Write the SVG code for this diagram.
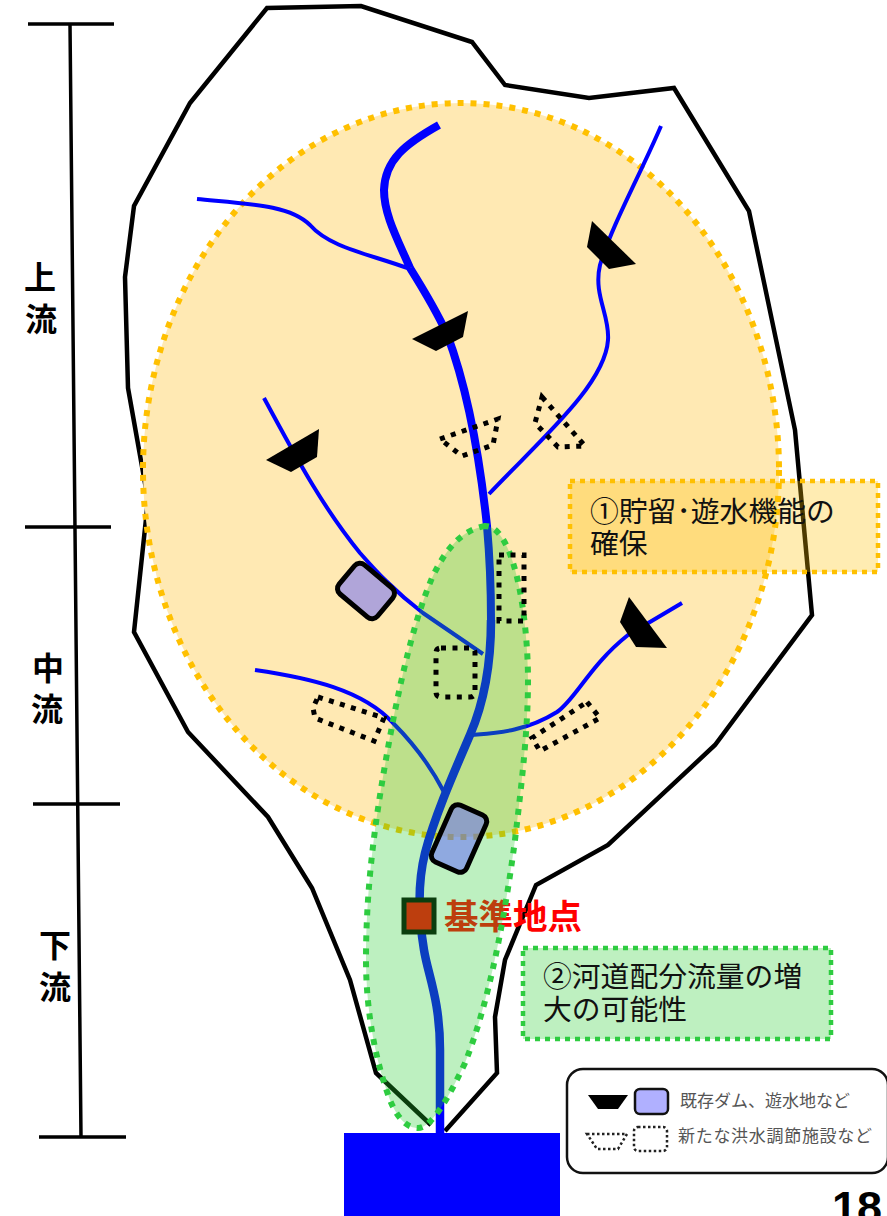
<svg xmlns="http://www.w3.org/2000/svg" width="887" height="1216" viewBox="0 0 887 1216">
<style>
text{font-family:"Noto Sans CJK JP","Liberation Sans",sans-serif}
.bd{fill:none;stroke:#000;stroke-width:4.5;stroke-linejoin:miter}
.ax{fill:none;stroke:#000;stroke-width:3.5}
.rv{fill:none;stroke:#00f;stroke-linecap:butt;stroke-linejoin:round}
.dot{fill:none;stroke:#000;stroke-width:5;stroke-dasharray:5 6.5}
.dam{fill:#000}
.res{fill:#6161ff;fill-opacity:.5;stroke:#000;stroke-width:5}
.lab{font-size:28.8px;fill:#111}
.side{font-size:32px;font-weight:700;fill:#000}
.leg{font-size:17px;fill:#555}
</style>
<rect width="887" height="1216" fill="#fff"/>
<g id="basin"><path class="bd" d="M431 1125L376 1073L350 980L312 888L268 817L188 732L134 632L148 500L128 388L125 277L134 206L190 103L267 8L361 6L472 42L505 85L589 98L674 88L749 211L795 430L812 615L715 745L608 845L536 885L505 960L495 1017L497 1073L445 1131"/></g>
<g id="axis">
<path class="ax" d="M70 24L81 1137M28 24H114M25 527H111M33 804H120M39 1137H126"/>
<text class="side" x="24" y="289">上</text><text class="side" x="25" y="331">流</text>
<text class="side" x="32" y="680">中</text><text class="side" x="31" y="721">流</text>
<text class="side" x="39" y="957">下</text><text class="side" x="39" y="999">流</text>
</g>
<g id="storage-area"><ellipse cx="461" cy="470" rx="318" ry="367" fill="#ffe9b3" stroke="#ffc000" stroke-width="6" stroke-dasharray="6 7"/></g>
<g id="rivers">
<path class="rv" stroke-width="8" d="M439 125C405 144 385 160 384 190C384 215 398 240 410 268"/>
<path class="rv" stroke-width="8" d="M410 268C425 292 436 310 447 334"/>
<path class="rv" stroke-width="8" d="M447 334C468 390 480 460 487 526C490 560 491 590 491 620"/>
<path class="rv" stroke-width="8.5" d="M491 620C491 670 483 705 470 735C455 770 435 815 425 853C417 885 419 920 424 950C428 975 440 1000 440 1050L440 1133"/>
<path class="rv" stroke-width="4" d="M197 199C250 204 290 205 310 225C330 248 370 254 410 269"/>
<path class="rv" stroke-width="4" d="M661 126C640 175 612 225 600 265C593 295 610 315 608 340C605 385 540 440 489 494"/>
<path class="rv" stroke-width="4" d="M264 398C300 465 325 510 360 553C375 570 393 590 423 613L483 654"/>
<path class="rv" stroke-width="4" d="M255 670C310 678 363 690 393 723C412 742 430 765 444 792"/>
<path class="rv" stroke-width="4" d="M472 735C495 733 525 732 557 712C575 700 590 665 628 635L682 603"/>
</g>
<g id="ref-point">
<rect x="404" y="900" width="30" height="32" fill="#f00" stroke="#000" stroke-width="5"/>
<text x="444" y="929" font-size="34.5" font-weight="700" fill="#f00">基準地点</text>
</g>
<g id="channel-area"><path d="M485 526C462 530 446 548 432 578C412 625 397 695 385 765C372 840 366 900 366 960C366 1010 375 1060 390 1100C398 1120 408 1128 418 1128C432 1128 450 1095 465 1063C490 1000 505 915 515 840C522 780 528 730 528 680C528 620 515 526 485 526Z" fill="#26cd2d" fill-opacity=".3" stroke="#2ecc40" stroke-width="6" stroke-dasharray="6 7"/></g>
<g id="new-facilities">
<path class="dot" d="M440 439L498 419L493 445L462 456Z"/>
<path class="dot" d="M542 397L585 446L558 447L535 423Z"/>
<path class="dot" d="M499 555H524V621H499Z"/>
<path class="dot" d="M441 648H470Q475 648 475 653V692Q475 697 470 697H441Q436 697 436 692V653Q436 648 441 648Z"/>
<path class="dot" d="M318 697L384 718L374 741L315 718L313 708Z"/>
<path class="dot" d="M587 702L600 718L540 751L532 738Z"/>
</g>
<g id="dams">
<path class="dam" d="M468 311L463 337L436 351L412 339Z"/>
<path class="dam" d="M319 429L317 457L291 472L266 460Z"/>
<path class="dam" d="M592 221L636 264L609 269L587 247Z"/>
<path class="dam" d="M629 597L667 648L636 647L620 622Z"/>
</g>
<g id="reservoirs">
<rect class="res" x="-25" y="-19" width="50" height="38" rx="7" transform="translate(366 591) rotate(40)"/>
<rect class="res" x="-19" y="-31" width="38" height="62" rx="7" transform="translate(459 838.500) rotate(24)"/>
</g>
<g id="box1">
<rect x="570" y="481" width="308" height="91" fill="#ffc000" fill-opacity=".3" stroke="#ffc000" stroke-width="4.5" stroke-dasharray="5 5"/>
<text class="lab" x="590" y="522">①貯留･遊水機能の</text><text class="lab" x="590" y="554">確保</text>
</g>
<g id="box2">
<rect x="523" y="948" width="308" height="91" fill="#bef0c0" stroke="#2ecc40" stroke-width="4.5" stroke-dasharray="5 5"/>
<text class="lab" x="543" y="987">②河道配分流量の増</text><text class="lab" x="543" y="1020">大の可能性</text>
</g>
<g id="outlet"><rect x="344" y="1133" width="216" height="83" fill="#00f"/></g>
<g id="legend">
<rect x="567" y="1069" width="321" height="104" rx="16" fill="#fff" stroke="#111" stroke-width="2.5"/>
<path class="dam" d="M588 1095H628L618 1109H598Z"/>
<rect x="635" y="1089" width="33" height="25" rx="5" fill="#b0b0ff" stroke="#111" stroke-width="2.5"/>
<path d="M587 1134H627L618 1149H597Z" fill="none" stroke="#222" stroke-width="2.5" stroke-dasharray="2.5 2.5"/>
<rect x="634" y="1127" width="33" height="24" rx="4" fill="none" stroke="#222" stroke-width="2.5" stroke-dasharray="2.5 2.5"/>
<text class="leg" x="680" y="1107">既存ダム、遊水地など</text>
<text class="leg" x="678" y="1142" textLength="194">新たな洪水調節施設など</text>
</g>
<g id="page"><text x="832" y="1223" font-size="45" font-weight="700" style="font-family:'Liberation Sans',sans-serif">18</text></g>
</svg>
